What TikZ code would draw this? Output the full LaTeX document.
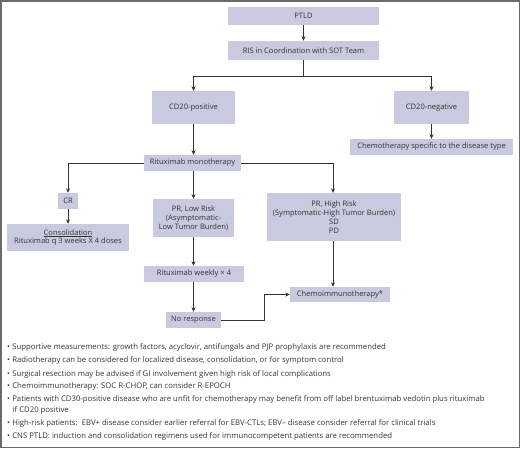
\documentclass[tikz,border=0pt]{standalone}
\usepackage{fontspec}
\setmainfont{Open Sans}
\usetikzlibrary{arrows.meta}
\definecolor{boxfill}{HTML}{C9CADF}
\definecolor{linec}{HTML}{333333}
\definecolor{framec}{HTML}{6A6A6A}
\begin{document}
\begin{tikzpicture}[x=1pt,y=-1pt,
  box/.style={fill=boxfill,draw=none,inner sep=0pt,align=center,font=\fontsize{7.55}{8.9}\selectfont,text=linec},
  arr/.style={draw=linec,line width=0.8pt,-{Stealth[length=4.5pt,width=4pt]}},
  ln/.style={draw=linec,line width=0.8pt},
  note/.style={anchor=west,inner sep=0pt,align=left,font=\fontsize{7.75}{11.3}\selectfont,text=linec}]
\useasboundingbox (0,0) rectangle (520,448);
\draw[framec,line width=1.5pt] (0.75,0.75) rectangle (519.25,447.25);
% boxes
\node[box,minimum width=151pt,minimum height=18pt] (ptld) at (303.5,16) {PTLD};
\node[box,minimum width=151pt,minimum height=19pt] (ris) at (303.5,50.5) {RIS in Coordination with SOT Team};
\node[box,minimum width=83pt,minimum height=33pt] (cdpos) at (193.5,107.5) {CD20-positive};
\node[box,minimum width=75pt,minimum height=33pt] (cdneg) at (431.5,107.5) {CD20-negative};
\node[box,minimum width=163pt,minimum height=16pt] (chemospec) at (431.5,147) {Chemotherapy specific to the disease type};
\node[box,minimum width=97pt,minimum height=16pt] (mono) at (192.5,163) {Rituximab monotherapy};
\node[box,minimum width=20pt,minimum height=16pt] (cr) at (68,201) {CR};
\node[box,minimum width=122pt,minimum height=27pt] (consol) at (68,237.5) {\underline{Consolidation}\\Rituximab q 3 weeks X 4 doses};
\node[box,minimum width=81pt,minimum height=38pt] (prlow) at (193.5,218) {PR, Low Risk\\(Asymptomatic-\\Low Tumor Burden)};
\node[box,minimum width=134pt,minimum height=48pt] (prhigh) at (334,217) {PR, High Risk\\(Symptomatic-High Tumor Burden)\\SD\\PD};
\node[box,minimum width=100pt,minimum height=16pt] (weekly) at (194,274) {Rituximab weekly × 4};
\node[box,minimum width=100pt,minimum height=15pt] (chemo) at (340,294.5) {Chemoimmunotherapy*};
\node[box,minimum width=55pt,minimum height=16pt] (noresp) at (193.5,320) {No response};
% connectors
\coordinate (split) at (303.5,76);
\coordinate (elbow) at (264,320);
\draw[arr] (ptld) -- (ris);
\draw[ln] (ris.south) -- (split);
\draw[arr] (split) -| (cdpos.north);
\draw[arr] (split) -| (cdneg.north);
\draw[arr] (cdneg) -- (chemospec);
\draw[arr] (cdpos) -- (mono.north -| cdpos.south);
\draw[arr] (mono.west) -| (cr.north);
\draw[arr] (mono.east) -| ([xshift=-1pt]prhigh.north);
\draw[arr] (mono.south -| prlow.north) -- (prlow.north);
\draw[arr] (cr) -- (cr |- consol.north);
\draw[arr] (prlow.south) -- (prlow.south |- weekly.north);
\draw[arr] (weekly.south -| noresp.north) -- (noresp.north);
\draw[arr] ([xshift=-1pt]prhigh.south) -- ([xshift=-1pt]prhigh.south |- chemo.north);
\draw[arr] (noresp.east) -- (elbow) |- (chemo.west);
% notes
\node[note] (n1) at (7,347.7) {•\hspace{2.2pt}Supportive measurements: growth factors, acyclovir, antifungals and PJP prophylaxis are recommended};
\node[note] (n2) at (7,360.7) {•\hspace{2.2pt}Radiotherapy can be considered for localized disease, consolidation, or for symptom control};
\node[note] (n3) at (7,374) {•\hspace{2.2pt}Surgical resection may be advised if GI involvement given high risk of local complications};
\node[note] (n4) at (7,386.7) {•\hspace{2.2pt}Chemoimmunotherapy: SOC R-CHOP, can consider R-EPOCH};
\node[note] (n5) at (7,405) {•\hspace{2.2pt}Patients with CD30-positive disease who are unfit for chemotherapy may benefit from off label brentuximab vedotin plus rituximab\\\hspace{5.5pt}if CD20 positive};
\node[note] (n6) at (7,423) {•\hspace{2.2pt}High-risk patients:\ \ EBV+ disease consider earlier referral for EBV-CTLs; EBV– disease consider referral for clinical trials};
\node[note] (n7) at (7,436) {•\hspace{2.2pt}CNS PTLD: induction and consolidation regimens used for immunocompetent patients are recommended};
\end{tikzpicture}
\end{document}
